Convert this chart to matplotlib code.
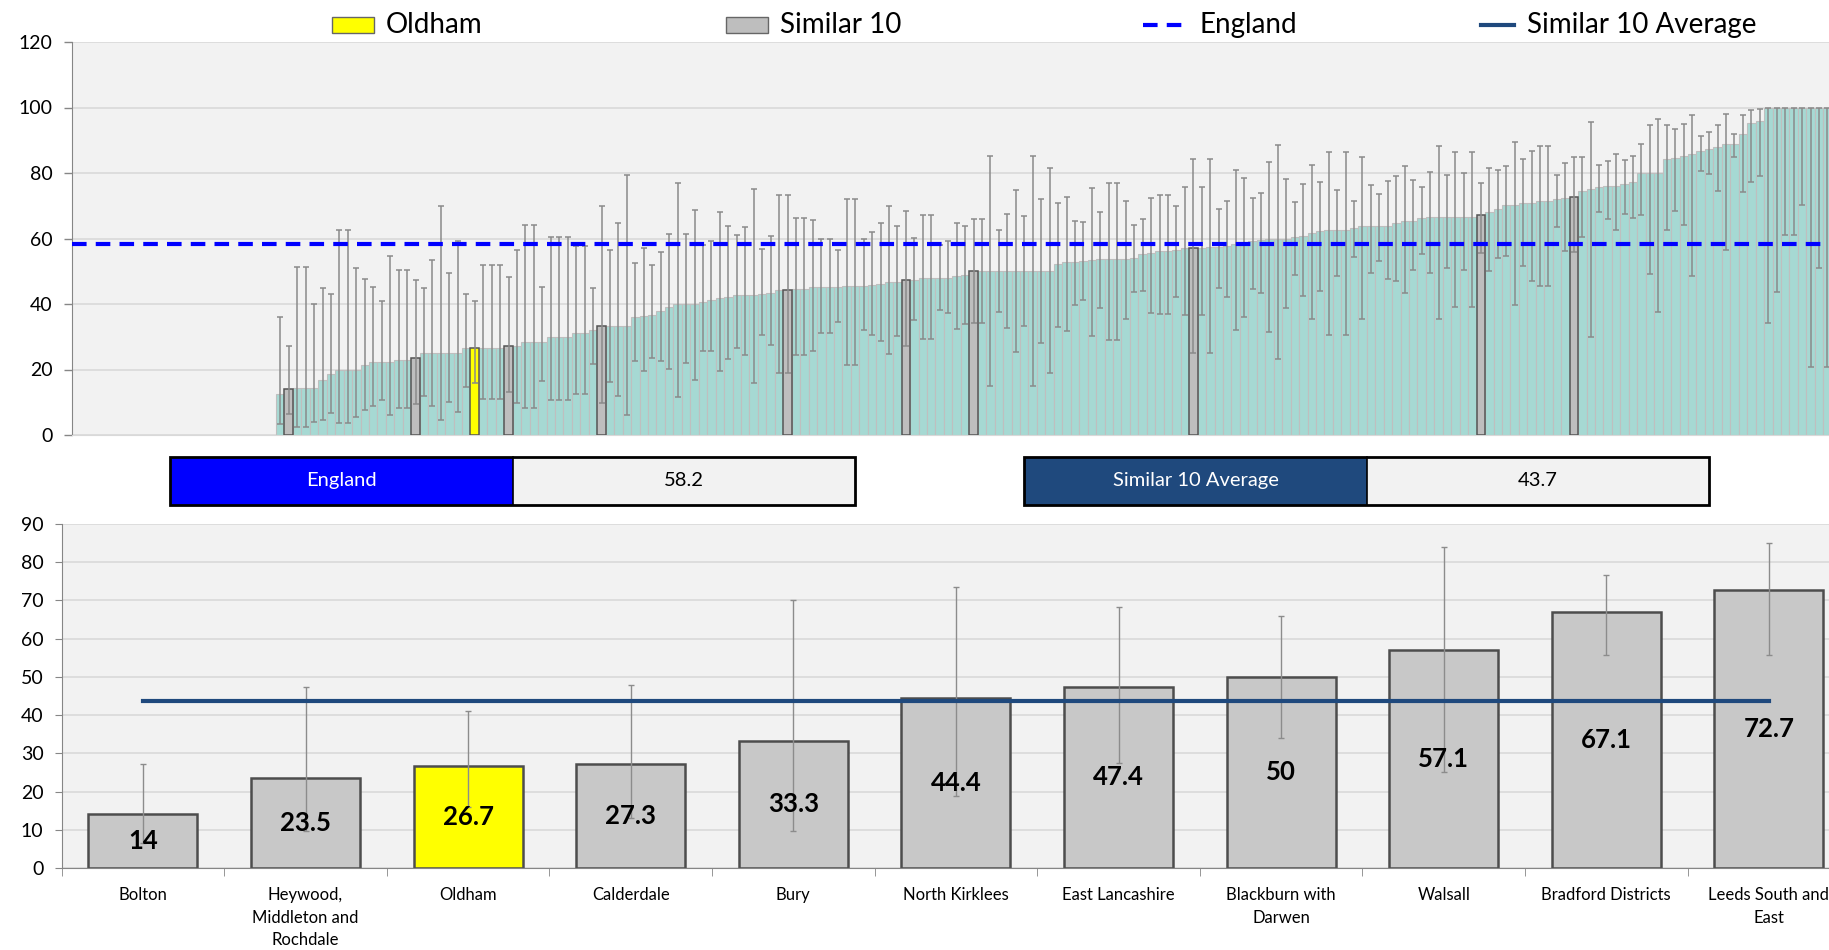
import matplotlib
matplotlib.use("Agg")
import matplotlib.pyplot as plt
from matplotlib.patches import Rectangle
from matplotlib.lines import Line2D
import numpy as np

plt.rcParams['font.family'] = ['Lato', 'DejaVu Sans']

# ---- top chart: all CCGs sorted by value (visible part) ----
ccg_values = [12.5, 14.0, 14.3, 14.3, 14.3, 16.7, 18.7, 20.0, 20.0, 20.0,
              21.5, 22.3, 22.3, 22.3, 23.0, 23.0, 23.5, 25.1, 25.1, 25.1,
              25.1, 25.1, 26.7, 26.7, 26.7, 26.7, 26.7, 27.3, 27.3, 28.5,
              28.5, 28.5, 30.0, 30.0, 30.0, 31.0, 31.0, 32.2, 33.3, 33.4,
              33.4, 33.4, 36.1, 36.4, 36.7, 37.9, 39.0, 40.0, 40.0, 40.0,
              40.7, 41.3, 41.7, 42.2, 42.8, 42.8, 42.8, 43.1, 43.4, 44.4,
              44.4, 44.5, 44.5, 45.1, 45.3, 45.3, 45.3, 45.6, 45.6, 45.6,
              45.9, 46.2, 46.8, 46.8, 47.4, 47.4, 48.0, 48.0, 48.0, 48.0,
              48.5, 48.9, 50.0, 50.0, 50.0, 50.0, 50.0, 50.0, 50.0, 50.0,
              50.0, 50.0, 52.3, 52.7, 52.9, 53.2, 53.5, 53.7, 53.8, 53.8,
              53.8, 54.1, 55.3, 55.6, 56.1, 56.1, 56.6, 57.1, 57.1, 57.1,
              57.3, 57.5, 57.7, 58.4, 58.4, 59.1, 59.6, 59.9, 59.9, 59.9,
              60.6, 60.9, 61.6, 62.2, 62.7, 62.7, 62.7, 63.3, 63.7, 63.9,
              63.9, 63.9, 64.6, 65.2, 65.2, 66.3, 66.7, 66.7, 66.7, 66.7,
              66.7, 66.7, 67.1, 68.0, 69.1, 70.1, 70.1, 70.7, 70.7, 71.4,
              71.4, 72.1, 72.4, 72.7, 74.6, 75.2, 75.8, 75.9, 76.1, 76.7,
              77.1, 80.1, 80.1, 80.1, 84.3, 84.5, 85.3, 85.9, 86.8, 87.4,
              88.0, 89.0, 89.0, 91.8, 95.3, 95.8, 100, 100, 100, 100,
              100, 100, 100, 100]
ccg_lower = [3.5, 6.5, 2.5, 2.5, 4.0, 4.6, 6.6, 3.6, 3.6, 5.6,
             7.6, 9.0, 10.6, 6.2, 8.1, 8.1, 9.6, 11.9, 8.9, 4.6,
             10.2, 7.1, 14.6, 16.0, 11.0, 11.0, 11.0, 13.2, 9.7, 8.2,
             8.2, 16.4, 10.8, 10.8, 10.8, 12.6, 12.6, 21.8, 9.7, 16.3,
             12.0, 6.1, 22.6, 19.6, 23.6, 22.7, 20.2, 11.7, 22.0, 16.9,
             25.5, 25.5, 19.4, 23.1, 26.6, 24.5, 15.9, 30.6, 27.5, 19.0,
             18.9, 24.5, 24.5, 25.7, 31.2, 31.2, 34.6, 21.3, 21.3, 32.1,
             30.6, 28.8, 24.8, 30.2, 27.2, 35.0, 29.2, 29.2, 38.3, 37.2,
             32.5, 33.9, 34.1, 34.1, 15.0, 37.5, 32.7, 25.3, 33.2, 15.0,
             28.1, 18.8, 33.1, 31.7, 39.8, 41.1, 30.1, 38.9, 29.1, 29.1,
             35.5, 43.6, 44.0, 37.2, 37.0, 37.0, 42.2, 36.6, 25.1, 36.6,
             25.1, 45.0, 42.2, 32.0, 36.0, 44.6, 43.4, 31.3, 23.1, 38.9,
             48.9, 42.4, 35.5, 44.0, 30.6, 48.4, 30.6, 54.2, 35.4, 49.5,
             53.2, 47.7, 47.0, 43.3, 50.3, 55.4, 49.6, 35.4, 51.1, 39.2,
             50.5, 39.2, 55.7, 50.2, 54.1, 54.6, 39.7, 51.5, 46.9, 45.4,
             45.4, 63.5, 56.2, 55.9, 60.5, 30.0, 68.0, 66.0, 62.7, 67.4,
             66.3, 67.1, 49.1, 37.5, 62.5, 68.4, 64.1, 48.6, 80.5, 79.6,
             74.6, 56.6, 85.0, 74.3, 77.4, 79.1, 34.2, 43.8, 61.0, 61.0,
             70.3, 20.8, 51.0, 20.8]
ccg_upper = [36.1, 27.3, 51.3, 51.3, 40.0, 45.0, 43.0, 62.6, 62.6, 51.0,
             47.7, 45.3, 40.8, 54.8, 50.5, 50.5, 47.3, 45.0, 53.4, 70.0,
             49.5, 59.2, 43.1, 41.0, 52.0, 52.0, 52.0, 48.2, 56.6, 64.2,
             64.2, 45.1, 60.4, 60.4, 60.4, 57.7, 57.7, 45.0, 70.0, 56.4,
             64.7, 79.3, 52.5, 57.1, 51.9, 56.0, 61.4, 77.0, 61.3, 68.8,
             57.9, 59.3, 68.1, 63.8, 61.0, 63.5, 75.1, 56.8, 60.8, 73.4,
             73.4, 66.3, 66.3, 65.8, 60.0, 60.0, 56.6, 72.0, 72.0, 59.8,
             62.0, 64.7, 69.9, 63.9, 68.3, 60.1, 67.1, 67.1, 58.0, 59.2,
             64.8, 63.8, 65.9, 65.9, 85.1, 62.6, 67.5, 74.7, 66.9, 85.1,
             72.1, 81.4, 70.9, 72.7, 65.4, 65.0, 75.3, 68.2, 77.0, 77.0,
             71.4, 64.2, 66.0, 72.5, 73.4, 73.4, 69.9, 75.7, 84.3, 75.7,
             84.3, 69.1, 71.5, 80.8, 78.5, 72.4, 73.8, 83.3, 88.4, 78.2,
             71.2, 76.5, 82.4, 77.4, 86.5, 74.8, 86.5, 71.5, 84.9, 76.3,
             73.6, 77.6, 79.0, 82.1, 77.8, 75.7, 80.4, 88.1, 79.5, 86.4,
             79.9, 86.4, 76.9, 81.6, 81.0, 82.2, 89.4, 84.3, 86.8, 88.3,
             88.3, 79.5, 83.1, 85.0, 84.9, 95.6, 82.3, 83.7, 85.8, 83.9,
             85.1, 88.9, 94.6, 96.5, 94.6, 93.3, 94.9, 97.6, 91.3, 92.5,
             94.8, 98.1, 92.0, 97.8, 99.2, 99.4, 100, 100, 100, 100,
             100, 100, 100, 100]
oldham_idx = 23
similar_idx = [1, 16, 27, 38, 60, 74, 82, 108, 142, 153]

england = 58.2
similar_avg = 43.7

# ---- bottom chart: Oldham and its similar 10 ----
areas = ['Bolton', 'Heywood,\nMiddleton and\nRochdale', 'Oldham', 'Calderdale',
         'Bury', 'North Kirklees', 'East Lancashire', 'Blackburn with\nDarwen',
         'Walsall', 'Bradford Districts', 'Leeds South and\nEast']
area_values = [14, 23.5, 26.7, 27.3, 33.3, 44.4, 47.4, 50, 57.1, 67.1, 72.7]
area_lower = [6.5, 9.6, 15.9, 13.2, 9.7, 18.9, 27.4, 34.1, 25.1, 55.7, 55.7]
area_upper = [27.3, 47.3, 41.0, 48.0, 70.0, 73.4, 68.3, 66.0, 84.1, 76.7, 84.9]

W, H = 1829, 950
fig = plt.figure(figsize=(W / 100, H / 100), dpi=100)

teal = '#A6D9D3'
grey = '#BEBEBE'
yellow = '#FFFF00'
bg = '#F2F2F2'
grid = '#D9D9D9'
navy = '#1F497D'


def fx(px):
    return px / W


def fy(py):
    return 1 - py / H


# top axes
ax1 = fig.add_axes([fx(72), fy(435), 1 - fx(72), (435 - 42) / H])
ax1.set_facecolor(bg)
vals = np.array(ccg_values)
x = np.arange(len(vals))
ax1.bar(x, vals, width=1.0, color=teal, edgecolor='#BFBFBF', linewidth=0.8, zorder=2)
hl = similar_idx + [oldham_idx]
hl_colors = [grey] * len(similar_idx) + [yellow]
ax1.bar(x[hl], vals[hl], width=1.0, color=hl_colors, edgecolor='#555555', linewidth=1.1, zorder=3)
yerr = [vals - np.array(ccg_lower), np.array(ccg_upper) - vals]
ax1.errorbar(x, vals, yerr=yerr, fmt='none', ecolor='#8a8a8a', elinewidth=1.1,
             capsize=2.3, capthick=1.1, zorder=4)
ax1.axhline(england, color='#0000FF', lw=3, dashes=(3.5, 2.2), zorder=5)
ax1.set_xlim(-24.63, 183.18)
ax1.set_ylim(0, 120)
ax1.set_yticks(range(0, 121, 20))
ax1.set_xticks([])
ax1.grid(axis='y', color=grid, lw=1.2, zorder=0)
ax1.set_axisbelow(True)
ax1.tick_params(axis='y', labelsize=14, length=6, width=1, color='#868686', pad=8)
for s in ['top', 'right']:
    ax1.spines[s].set_visible(False)
ax1.spines['left'].set_color('#868686')
ax1.spines['bottom'].set_color(grid)

# legend drawn along the top
ly = 25
fig.add_artist(Rectangle((fx(332), fy(ly + 8)), fx(42), 16 / H, facecolor=yellow,
                         edgecolor='#666666', lw=1, transform=fig.transFigure))
fig.add_artist(Rectangle((fx(726), fy(ly + 8)), fx(42), 16 / H, facecolor=grey,
                         edgecolor='#666666', lw=1, transform=fig.transFigure))
fig.add_artist(Line2D([fx(1143), fx(1184)], [fy(ly), fy(ly)], color='#0000FF', lw=3,
                      dashes=(3.5, 2.2), transform=fig.transFigure))
fig.add_artist(Line2D([fx(1481), fx(1514)], [fy(ly), fy(ly)], color=navy, lw=3,
                      transform=fig.transFigure))
for lx, txt in [(386, 'Oldham'), (780, 'Similar 10'), (1199, 'England'),
                (1527, 'Similar 10 Average')]:
    fig.text(fx(lx), fy(ly), txt, fontsize=20, va='center', ha='left')

# value boxes
for x0, xm, x1, label, val, col in [(170, 513, 855, 'England', england, '#0000FF'),
                                     (1024, 1367, 1709, 'Similar 10 Average', similar_avg, navy)]:
    fig.add_artist(Rectangle((fx(x0), fy(505)), fx(xm - x0), 48 / H, facecolor=col,
                             edgecolor='none', transform=fig.transFigure))
    fig.add_artist(Rectangle((fx(xm), fy(505)), fx(x1 - xm), 48 / H, facecolor=bg,
                             edgecolor='none', transform=fig.transFigure))
    fig.add_artist(Rectangle((fx(x0), fy(505)), fx(x1 - x0), 48 / H, facecolor='none',
                             edgecolor='black', lw=2, transform=fig.transFigure))
    fig.add_artist(Line2D([fx(xm), fx(xm)], [fy(505), fy(457)], color='black', lw=1.2,
                          transform=fig.transFigure))
    fig.text(fx((x0 + xm) / 2), fy(481), label, color='white', fontsize=14.5,
             ha='center', va='center')
    fig.text(fx((xm + x1) / 2), fy(481), f'{val:g}', color='black', fontsize=14.5,
             ha='center', va='center')

# bottom axes
ax2 = fig.add_axes([fx(61.6), fy(868), 1 - fx(61.6), (868 - 524) / H])
ax2.set_facecolor(bg)
av = np.array(area_values)
xb = np.arange(len(av))
bcol = [yellow if a == 'Oldham' else '#C8C8C8' for a in areas]
ax2.bar(xb, av, width=0.67, color=bcol, edgecolor='#4d4d4d', linewidth=1.8, zorder=2)
ax2.errorbar(xb, av, yerr=[av - np.array(area_lower), np.array(area_upper) - av],
             fmt='none', ecolor='#8c8c8c', elinewidth=1, capsize=2.5, capthick=1, zorder=3)
ax2.plot([xb[0], xb[-1]], [similar_avg, similar_avg], color=navy, lw=3, zorder=4)
for i, v in enumerate(av):
    ax2.text(i, v / 2, f'{v:g}', ha='center', va='center', fontsize=18.5,
             fontweight='bold', zorder=5)
ax2.set_xlim(-0.5, -0.5 + (W - 61.6) / 162.6)
ax2.set_ylim(0, 90)
ax2.set_yticks(range(0, 91, 10))
ax2.set_xticks(xb)
ax2.set_xticklabels(areas, fontsize=12, linespacing=1.5)
ax2.set_xticks(np.arange(-0.5, len(av) - 0.5, 1), minor=True)
ax2.tick_params(axis='x', which='major', length=0, pad=14)
ax2.tick_params(axis='x', which='minor', length=6, color='#868686')
ax2.tick_params(axis='y', labelsize=14, length=5, color='#868686', pad=8)
ax2.grid(axis='y', color=grid, lw=1.2, zorder=0)
ax2.set_axisbelow(True)
for s in ['top', 'right']:
    ax2.spines[s].set_visible(False)
ax2.spines['left'].set_color('#868686')
ax2.spines['bottom'].set_color('#868686')

fig.savefig('out.png', dpi=100)
